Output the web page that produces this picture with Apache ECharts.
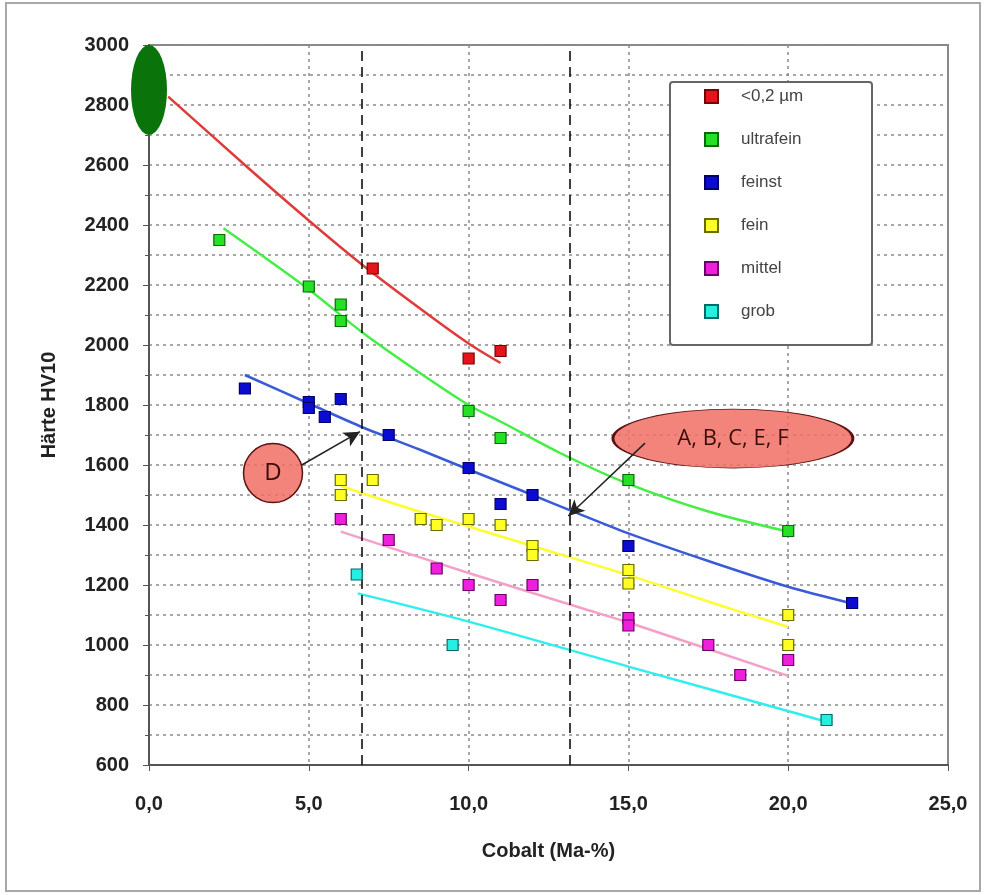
<!DOCTYPE html>
<html><head><meta charset="utf-8">
<script src="https://cdn.jsdelivr.net/npm/echarts@6/dist/echarts.min.js"></script>
<style>html,body{margin:0;padding:0;background:#fff}#c{width:984px;height:895px}</style>
</head><body><div id="c"></div>
<script>
// ---- data ----
const seriesNames = ['<0,2 µm', 'ultrafein', 'feinst', 'fein', 'mittel', 'grob'];
const ptsSub02 = [[7, 2255], [10, 1955], [11, 1980]];
const ptsUltrafein = [[2.2, 2350], [5, 2195], [6, 2135], [6, 2080], [10, 1780], [11, 1690], [15, 1550], [20, 1380]];
const ptsFeinst = [[3, 1855], [5, 1810], [5, 1790], [5.5, 1760], [6, 1820], [7.5, 1700], [10, 1590], [11, 1470], [12, 1500], [15, 1330], [22, 1140]];
const ptsFein = [[6, 1550], [6, 1500], [7, 1550], [8.5, 1420], [9, 1400], [10, 1420], [11, 1400], [12, 1330], [12, 1300], [15, 1250], [15, 1205], [20, 1100], [20, 1000]];
const ptsMittel = [[6, 1420], [7.5, 1350], [9, 1255], [10, 1200], [11, 1150], [12, 1200], [15, 1090], [15, 1065], [17.5, 1000], [18.5, 900], [20, 950]];
const ptsGrob = [[6.5, 1235], [9.5, 1000], [21.2, 750]];

const trendSub02 = [[0.6, 2828], [3, 2600], [5, 2415], [6.7, 2265], [8.5, 2120], [10, 2005], [11, 1940]];
const trendUltrafein = [[2.33, 2389], [5, 2185], [6.7, 2040], [8.5, 1905], [10, 1800], [11, 1745], [12.86, 1640], [15, 1537], [17.5, 1445], [20, 1378]];
const trendFeinst = [[3, 1900], [5, 1805], [6.7, 1725], [8.5, 1650], [10, 1585], [12, 1500], [13.2, 1448], [15, 1372], [17.5, 1280], [20, 1194], [21.9, 1141]];
const trendFein = [[6, 1530], [8, 1460], [10, 1395], [12, 1330], [15, 1233], [17.5, 1145], [20, 1060]];
const trendMittel = [[6, 1378], [10, 1240], [13.5, 1124], [15, 1075], [20, 897]];
const trendGrob = [[6.53, 1172], [10, 1078], [15, 928], [21.2, 744]];

const markerCobalt = [6.65, 13.17];
const ovalPoint = [0, 2850];
const labelD = [3.88, 1573];
const arrowD = [[4.78, 1600], [6.6, 1711]];
const labelABCEF = [18.27, 1688];
const arrowABCEF = [[15.52, 1673], [13.12, 1430]];
const textABCEF = 'A, B, C, E, F';
const textD = 'D';

const yTicks = { min: 600, max: 3000, step: 200 };
const xTicks = { min: 0, max: 25, step: 5 };

// ---- styles ----
const fillColors = ['#e4141c', '#26e026', '#0c0cd0', '#ffff26', '#ee20dc', '#26eee0'];
const borderColors = ['#7a0000', '#0a6a0a', '#00006a', '#6a6a00', '#6a006a', '#006a6a'];
const lineColors = ['#e03a3a', '#44ee44', '#3a5ad8', '#ffff30', '#f4a0c8', '#30eeee'];
const allPts = [ptsSub02, ptsUltrafein, ptsFeinst, ptsFein, ptsMittel, ptsGrob];
const allTrends = [trendSub02, trendUltrafein, trendFeinst, trendFein, trendMittel, trendGrob];

const dotted = { color: '#8a8a8a', type: [3, 4], width: 1.5 };
const font = 'Liberation Sans, Arial, sans-serif';

const series = [];
allTrends.forEach((t, i) => {
  series.push({
    name: 'trend ' + seriesNames[i], type: 'line', data: t, smooth: 0.3,
    showSymbol: false, silent: true, z: 3,
    lineStyle: { color: lineColors[i], width: 2.5 }
  });
});
allPts.forEach((p, i) => {
  series.push({
    name: seriesNames[i], type: 'scatter', data: p, symbol: 'rect', symbolSize: 11, z: 5,
    itemStyle: { color: fillColors[i], borderColor: borderColors[i], borderWidth: 1.2, opacity: 1 }
  });
});
const annotFill = 'rgba(240,110,100,0.85)';
series.push({
  name: 'annot', type: 'scatter', clip: false, silent: true, z: 6,
  data: [
    { value: ovalPoint, symbol: 'circle', symbolSize: [36, 90], itemStyle: { color: '#0a740a', opacity: 1 } },
    { value: labelD, symbol: 'circle', symbolSize: [59, 59],
      itemStyle: { color: annotFill, borderColor: '#5a1212', borderWidth: 1.5, opacity: 1 },
      label: { show: true, position: 'inside', formatter: textD, fontSize: 24, color: '#3a0c0c', fontFamily: 'Open Sans, Liberation Sans, sans-serif' } },
    { value: labelABCEF, symbol: 'circle', symbolSize: [240, 59],
      itemStyle: { color: annotFill, borderColor: '#5a1212', borderWidth: 1.5, opacity: 1 },
      label: { show: true, position: 'inside', formatter: textABCEF, fontSize: 22, color: '#3a0c0c', fontFamily: 'Open Sans, Liberation Sans, sans-serif' } }
  ],
  markLine: {
    silent: true, symbol: ['none', 'arrow'], symbolSize: [12, 16], z: 7,
    lineStyle: { color: '#222', width: 1.5, type: 'solid' },
    label: { show: false },
    data: [
      [{ coord: arrowD[0] }, { coord: arrowD[1] }],
      [{ coord: arrowABCEF[0] }, { coord: arrowABCEF[1] }]
    ]
  }
});
series.push({
  name: 'marks', type: 'line', data: [], silent: true,
  markLine: {
    silent: true, symbol: ['none', 'none'], label: { show: false },
    lineStyle: { color: '#111', type: [10, 6], width: 1.6 },
    data: markerCobalt.map(v => ({ xAxis: v }))
  }
});

const chart = echarts.init(document.getElementById('c'));
chart.setOption({
  backgroundColor: '#fff',
  animation: false,
  graphic: [
    { type: 'rect', shape: { x: 6, y: 3, width: 974, height: 888 }, style: { fill: 'none', stroke: '#a8a8a8', lineWidth: 2 }, z: 1 },
    { type: 'rect', shape: { x: 670, y: 82, width: 202, height: 263, r: 3 }, style: { fill: '#fff', stroke: '#666', lineWidth: 2 }, z: 8 }
  ],
  legend: {
    data: seriesNames, orient: 'vertical', left: 699, top: 83, z: 10,
    itemWidth: 13, itemHeight: 13, itemGap: 26,
    textStyle: { fontSize: 17, color: '#444', fontFamily: font, padding: [0, 0, 0, 18] }
  },
  grid: { left: 149, top: 45, width: 799, height: 720, show: true, borderColor: '#888', borderWidth: 2, backgroundColor: '#fff' },
  xAxis: {
    type: 'value', min: xTicks.min, max: xTicks.max, interval: xTicks.step,
    name: 'Cobalt (Ma-%)', nameLocation: 'middle', nameGap: 76,
    nameTextStyle: { fontSize: 20, fontWeight: 'bold', color: '#222', fontFamily: font },
    axisLine: { lineStyle: { color: '#555', width: 2 } },
    axisTick: { show: true, length: 6, lineStyle: { color: '#555' } },
    axisLabel: { fontSize: 20, fontWeight: 'bold', color: '#222', fontFamily: font, margin: 29,
      formatter: v => v.toFixed(1).replace('.', ',') },
    splitLine: { show: true, lineStyle: dotted }
  },
  yAxis: {
    type: 'value', min: yTicks.min, max: yTicks.max, interval: yTicks.step,
    name: 'Härte HV10', nameLocation: 'middle', nameGap: 90,
    nameTextStyle: { fontSize: 20, fontWeight: 'bold', color: '#222', fontFamily: font },
    axisLine: { show: true, lineStyle: { color: '#555', width: 2 } },
    axisTick: { show: true, length: 6, lineStyle: { color: '#555' } },
    minorTick: { show: true, splitNumber: 2, length: 4, lineStyle: { color: '#555' } },
    axisLabel: { fontSize: 20, fontWeight: 'bold', color: '#222', fontFamily: font, margin: 20,
      formatter: v => String(v) },
    splitLine: { show: true, lineStyle: dotted },
    minorSplitLine: { show: true, lineStyle: dotted }
  },
  series: series
});
</script></body></html>
